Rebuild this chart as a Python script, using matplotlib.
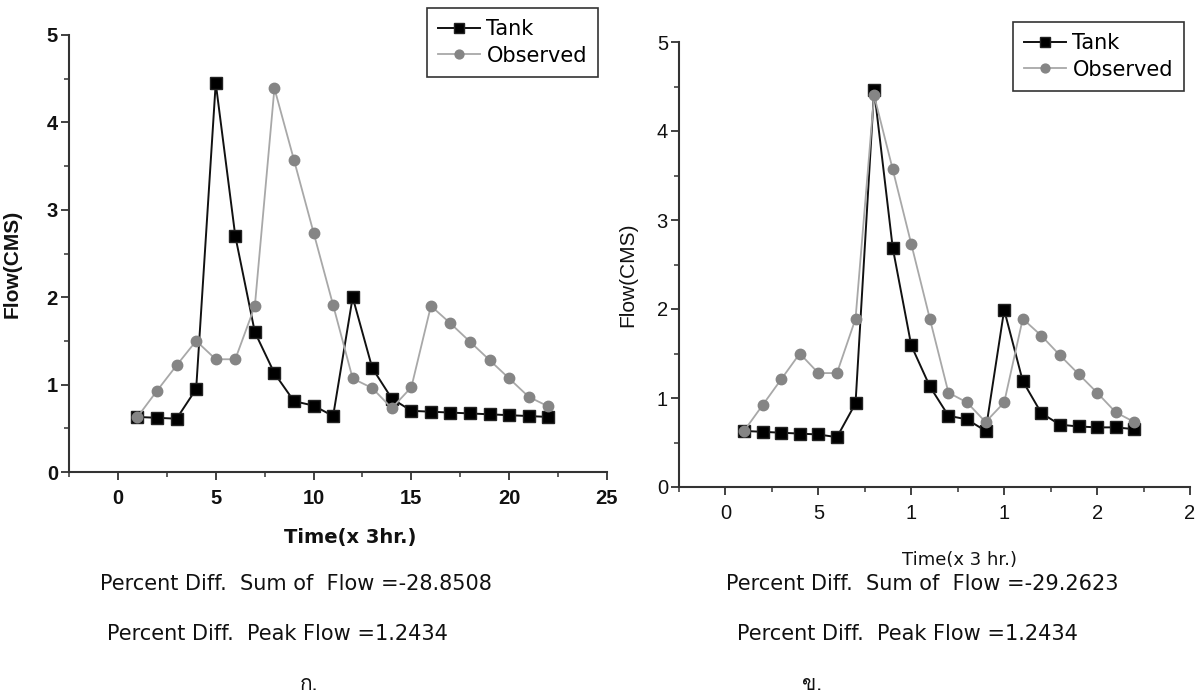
import matplotlib
matplotlib.use("Agg")
import matplotlib.pyplot as plt
from matplotlib import font_manager
from matplotlib.ft2font import FT2Font
from matplotlib.ticker import FixedLocator, FixedFormatter, MultipleLocator

# ---------------- data ----------------
time_steps = list(range(1, 23))

tank_a = [0.63, 0.62, 0.61, 0.95, 4.45, 2.70, 1.60, 1.13, 0.81, 0.76, 0.64,
          2.00, 1.19, 0.84, 0.70, 0.69, 0.68, 0.67, 0.66, 0.65, 0.64, 0.63]
observed_a = [0.63, 0.93, 1.22, 1.50, 1.29, 1.29, 1.90, 4.39, 3.57, 2.74, 1.91,
              1.07, 0.96, 0.73, 0.97, 1.90, 1.70, 1.49, 1.28, 1.07, 0.86, 0.75]

tank_b = [0.63, 0.62, 0.61, 0.60, 0.59, 0.56, 0.94, 4.46, 2.69, 1.59, 1.13,
          0.80, 0.76, 0.63, 1.99, 1.19, 0.83, 0.70, 0.68, 0.67, 0.67, 0.65]
observed_b = [0.63, 0.92, 1.21, 1.50, 1.28, 1.28, 1.89, 4.40, 3.57, 2.73, 1.89,
              1.06, 0.95, 0.73, 0.95, 1.89, 1.70, 1.48, 1.27, 1.06, 0.84, 0.73]

x_ticks = [0, 5, 10, 15, 20, 25]
x_ticklabels_a = ["0", "5", "10", "15", "20", "25"]
x_ticklabels_b = ["0", "5", "1", "1", "2", "2"]
y_ticks = [0, 1, 2, 3, 4, 5]

series_names = ["Tank", "Observed"]
sum_text_a = "Percent Diff.  Sum of  Flow =-28.8508"
peak_text_a = "Percent Diff.  Peak Flow =1.2434"
sum_text_b = "Percent Diff.  Sum of  Flow =-29.2623"
peak_text_b = "Percent Diff.  Peak Flow =1.2434"
xlabel_a = "Time(x 3hr.)"
xlabel_b = "Time(x 3 hr.)"
ylabel = "Flow(CMS)"
panel_a = "ก."
panel_b = "ข."

# ---------------- find a Thai-capable font ----------------
thai_family = None
for fe in font_manager.fontManager.ttflist:
    try:
        f = FT2Font(fe.fname)
        if f.get_char_index(0x0E01) and f.get_char_index(0x0E02):
            thai_family = fe.name
            break
    except Exception:
        pass
thai_fams = ([thai_family] if thai_family else []) + ["DejaVu Sans"]

plt.rcParams["font.family"] = ["Liberation Sans", "DejaVu Sans"]

W, H = 1195, 699
fig = plt.figure(figsize=(W / 100, H / 100), dpi=100)
fig.patch.set_facecolor("white")


def px_ax(l, t, r, b):
    return fig.add_axes([l / W, 1 - b / H, (r - l) / W, (b - t) / H])


ax1 = px_ax(69, 35, 607, 472)
ax2 = px_ax(679, 42, 1190, 487)

TANK_C = "#111111"
OBS_LINE = "#a8a8a8"
OBS_MARK = "#858585"


def draw(ax, tank, obs, xlabels, bold, legend_bbox):
    lt, = ax.plot(time_steps, tank, color=TANK_C, lw=1.4, marker="s",
                  markersize=8, markerfacecolor="black",
                  markeredgecolor="#222222", label=series_names[0], zorder=3)
    lo, = ax.plot(time_steps, obs, color=OBS_LINE, lw=1.3, marker="o",
                  markersize=7.5, markerfacecolor=OBS_MARK,
                  markeredgecolor=OBS_MARK, label=series_names[1], zorder=4)
    ax.set_xlim(-2.5, 25)
    ax.set_ylim(0, 5)
    for s in ("top", "right"):
        ax.spines[s].set_visible(False)
    for s in ("left", "bottom"):
        ax.spines[s].set_linewidth(1.5)
        ax.spines[s].set_color("#333333")
    ax.xaxis.set_major_locator(FixedLocator(x_ticks))
    ax.xaxis.set_major_formatter(FixedFormatter(xlabels))
    ax.xaxis.set_minor_locator(MultipleLocator(2.5))
    ax.yaxis.set_major_locator(FixedLocator(y_ticks))
    ax.yaxis.set_minor_locator(MultipleLocator(0.5))
    ax.tick_params(which="major", direction="out", length=6, width=1.3,
                   color="#333333", labelsize=14.5, pad=6)
    ax.tick_params(which="minor", direction="out", length=3.5, width=1.1,
                   color="#333333")
    ax.tick_params(axis="y", which="major", pad=2)
    for lab in ax.get_xticklabels() + ax.get_yticklabels():
        lab.set_fontweight("bold" if bold else "normal")
        lab.set_color("#111111")
    leg = ax.legend(handles=[lt, lo], loc="upper left",
                    bbox_to_anchor=legend_bbox, bbox_transform=fig.transFigure,
                    frameon=True, fancybox=False, framealpha=1,
                    edgecolor="#333333", prop={"family": "DejaVu Sans", "size": 15},
                    handlelength=2.0, handletextpad=0.3, borderpad=0.55,
                    labelspacing=0.3, borderaxespad=0, markerscale=0.85)
    leg.get_frame().set_linewidth(1.2)
    return leg


draw(ax1, tank_a, observed_a, x_ticklabels_a, True, (427 / W, 1 - 8 / H))
draw(ax2, tank_b, observed_b, x_ticklabels_b, False, (1013 / W, 1 - 22 / H))

ax1.set_ylabel(ylabel, fontsize=15, fontweight="bold", color="#111111")
ax1.yaxis.set_label_coords(-0.088, 0.476)
ax2.set_ylabel(ylabel, fontsize=15, color="#111111")
ax2.yaxis.set_label_coords(-0.082, 0.476)


def ftext(x, y, s, **kw):
    fig.text(x / W, 1 - y / H, s, ha="center", va="center", color="#111111", **kw)


ftext(350, 537, xlabel_a, fontsize=14, fontweight="bold", family="DejaVu Sans")
ftext(960, 560, xlabel_b, fontsize=13, family="DejaVu Sans")
ftext(296, 584, sum_text_a, fontsize=15, family="DejaVu Sans")
ftext(277, 634, peak_text_a, fontsize=15, family="DejaVu Sans")
ftext(922, 584, sum_text_b, fontsize=15, family="DejaVu Sans")
ftext(907, 634, peak_text_b, fontsize=15, family="DejaVu Sans")
ftext(309, 684, panel_a, fontsize=15, family=thai_fams)
ftext(812, 684, panel_b, fontsize=15, family=thai_fams)

fig.savefig("out.png", dpi=100, facecolor="white")
